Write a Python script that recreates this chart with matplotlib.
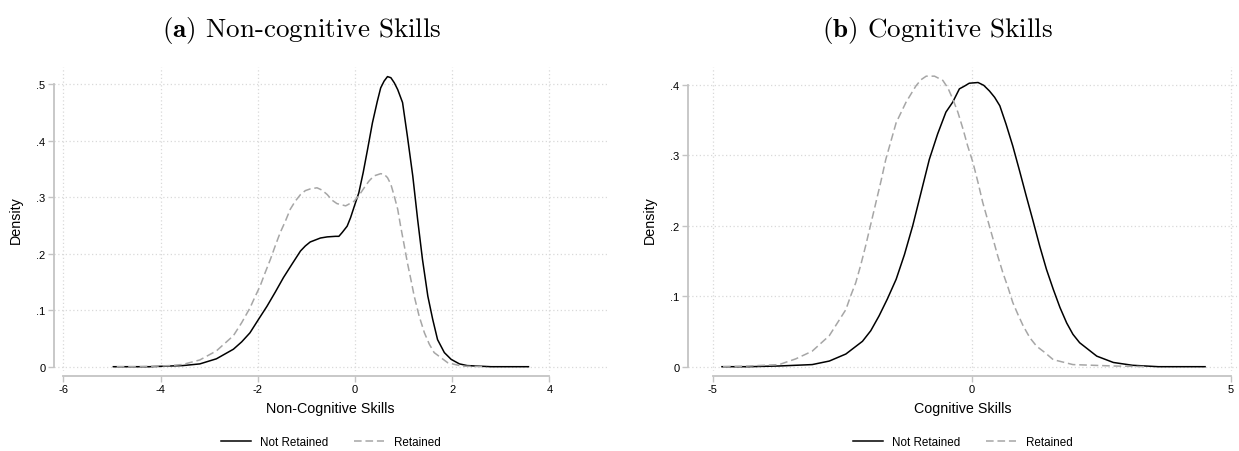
import matplotlib
matplotlib.use("Agg")
import matplotlib.pyplot as plt

# Panel (a): non-cognitive skills, density
nc_x_not = [-4.97, -4.6, -4.23, -3.9, -3.54, -3.19, -2.85, -2.5, -2.33, -2.16, -1.99, -1.81, -1.64,
            -1.47, -1.3, -1.12, -1.02, -0.92, -0.71, -0.57, -0.4, -0.33, -0.26, -0.16, -0.09, -0.01,
            0.08, 0.17, 0.26, 0.36, 0.46, 0.53, 0.6, 0.67, 0.74, 0.81, 0.88, 0.98, 1.08, 1.19, 1.29,
            1.39, 1.5, 1.6, 1.7, 1.84, 1.98, 2.15, 2.31, 2.8, 3.2, 3.57]
nc_y_not = [0.0, 0.0, 0.0, 0.001, 0.002, 0.005, 0.014, 0.031, 0.044, 0.060, 0.083, 0.107, 0.132,
            0.158, 0.181, 0.205, 0.214, 0.221, 0.228, 0.230, 0.231, 0.231, 0.238, 0.249, 0.264, 0.285,
            0.308, 0.344, 0.385, 0.432, 0.470, 0.494, 0.506, 0.514, 0.512, 0.503, 0.491, 0.468, 0.408,
            0.338, 0.261, 0.190, 0.125, 0.084, 0.048, 0.025, 0.013, 0.005, 0.002, 0.0, 0.0, 0.0]
nc_x_ret = [-4.9, -4.5, -4.1, -3.8, -3.54, -3.19, -2.85, -2.5, -2.33, -2.16, -2.06, -1.95, -1.85,
            -1.74, -1.64, -1.54, -1.43, -1.33, -1.23, -1.12, -1.02, -0.92, -0.78, -0.68, -0.57, -0.47,
            -0.37, -0.19, -0.02, 0.08, 0.19, 0.29, 0.39, 0.53, 0.6, 0.67, 0.74, 0.81, 0.88, 0.94, 1.01,
            1.08, 1.15, 1.22, 1.32, 1.43, 1.53, 1.63, 1.91, 2.2, 2.7]
nc_y_ret = [0.0, 0.0, 0.001, 0.002, 0.004, 0.012, 0.028, 0.055, 0.078, 0.104, 0.123, 0.143, 0.166,
            0.190, 0.214, 0.237, 0.258, 0.279, 0.293, 0.305, 0.312, 0.315, 0.317, 0.313, 0.305, 0.295,
            0.289, 0.285, 0.293, 0.303, 0.317, 0.329, 0.338, 0.342, 0.341, 0.335, 0.323, 0.302, 0.279,
            0.249, 0.217, 0.184, 0.155, 0.125, 0.090, 0.060, 0.040, 0.025, 0.007, 0.001, 0.0]

# Panel (b): cognitive skills
c_x_not = [-4.82, -4.3, -3.72, -3.08, -2.75, -2.43, -2.11, -1.95, -1.79, -1.63, -1.46, -1.3, -1.14,
           -0.98, -0.82, -0.66, -0.5, -0.37, -0.24, -0.14, -0.05, 0.12, 0.23, 0.34, 0.44, 0.54, 0.66,
           0.79, 0.92, 1.05, 1.18, 1.31, 1.44, 1.57, 1.7, 1.83, 1.95, 2.08, 2.41, 2.73, 3.1, 3.6,
           4.0, 4.5]
c_y_not = [0.0, 0.0, 0.001, 0.003, 0.008, 0.018, 0.036, 0.051, 0.072, 0.096, 0.124, 0.159, 0.200,
           0.247, 0.294, 0.330, 0.361, 0.375, 0.394, 0.398, 0.402, 0.403, 0.399, 0.391, 0.382, 0.370,
           0.344, 0.313, 0.278, 0.242, 0.207, 0.171, 0.138, 0.110, 0.084, 0.062, 0.046, 0.034, 0.015,
           0.006, 0.002, 0.0, 0.0, 0.0]
c_x_ret = [-4.8, -4.3, -3.72, -3.4, -3.08, -2.75, -2.43, -2.34, -2.24, -2.14, -2.05, -1.95, -1.85,
           -1.75, -1.66, -1.56, -1.46, -1.27, -1.08, -0.98, -0.88, -0.72, -0.56, -0.46, -0.37, -0.27,
           -0.17, -0.08, 0.02, 0.12, 0.21, 0.31, 0.41, 0.5, 0.6, 0.7, 0.79, 0.89, 0.99, 1.12, 1.25,
           1.41, 1.57, 1.95, 2.73, 3.4]
c_y_ret = [0.0, 0.001, 0.003, 0.011, 0.022, 0.044, 0.081, 0.100, 0.119, 0.145, 0.171, 0.202, 0.233,
           0.264, 0.294, 0.320, 0.346, 0.375, 0.398, 0.407, 0.412, 0.412, 0.406, 0.395, 0.380, 0.361,
           0.337, 0.313, 0.290, 0.261, 0.233, 0.207, 0.181, 0.157, 0.133, 0.112, 0.091, 0.074, 0.058,
           0.041, 0.029, 0.020, 0.010, 0.003, 0.001, 0.0]

nc_xticks = [-6, -4, -2, 0, 2, 4]
nc_yticks = [0, 0.1, 0.2, 0.3, 0.4, 0.5]
nc_ylabels = ["0", ".1", ".2", ".3", ".4", ".5"]
c_xticks = [-5, 0, 5]
c_yticks = [0, 0.1, 0.2, 0.3, 0.4]
c_ylabels = ["0", ".1", ".2", ".3", ".4"]

plt.rcParams["font.family"] = ["Liberation Sans", "DejaVu Sans"]
plt.rcParams["mathtext.fontset"] = "cm"

W, H = 1239, 452
fig = plt.figure(figsize=(W / 100, H / 100), dpi=100)

AX_COLOR = "#c4c4c4"
GRID_COLOR = "#d9d9d9"


def px_axes(x0, x1, y_top, y_bot):
    return fig.add_axes([x0 / W, 1 - y_bot / H, (x1 - x0) / W, (y_bot - y_top) / H])


def style_panel(ax, xticks, yticks, ylabels, xlabel, xlim, ylim):
    ax.set_xlim(*xlim)
    ax.set_ylim(*ylim)
    ax.set_xticks(xticks)
    ax.set_xticklabels([str(t) for t in xticks])
    ax.set_yticks(yticks)
    ax.set_yticklabels(ylabels)
    for t in xticks:
        ax.axvline(t, color=GRID_COLOR, lw=0.9, ls=(0, (1, 2)), zorder=0)
    for t in yticks:
        ax.axhline(t, color=GRID_COLOR, lw=0.9, ls=(0, (1, 2)), zorder=0)
    for s in ["top", "right"]:
        ax.spines[s].set_visible(False)
    ax.spines["left"].set_color(AX_COLOR)
    ax.spines["left"].set_linewidth(1.3)
    ax.spines["left"].set_bounds(yticks[0], yticks[-1])
    ax.spines["bottom"].set_color(AX_COLOR)
    ax.spines["bottom"].set_linewidth(1.3)
    ax.spines["bottom"].set_position(("outward", 3.4))
    ax.spines["bottom"].set_bounds(xticks[0], xticks[-1])
    ax.tick_params(axis="both", colors=AX_COLOR, labelcolor="black", labelsize=8,
                   length=4.3, width=1.0, pad=2)
    ax.set_xlabel(xlabel, fontsize=10.3)
    ax.xaxis.set_label_coords(0.5, -0.10)
    ax.set_ylabel("Density", fontsize=10.3)
    ax.yaxis.set_label_coords(-0.057, 0.5)
    ax.legend(loc="center", bbox_to_anchor=(0.5, -0.234), ncol=2, frameon=False,
              fontsize=8.4, handlelength=2.6, columnspacing=2.2, handletextpad=0.8)


line_kw = dict(lw=1.1, solid_joinstyle="round", dash_joinstyle="round")

# Panel (a)
ax1 = px_axes(54.3, 606.7, 68, 372)
ax1.plot(nc_x_not, nc_y_not, color="black", label="Not Retained", **line_kw)
ax1.plot(nc_x_ret, nc_y_ret, color="#a6a6a6", ls=(0, (5, 2.5)), label="Retained", **line_kw)
style_panel(ax1, nc_xticks, nc_yticks, nc_ylabels, "Non-Cognitive Skills",
            (-6.185, 5.18), (-0.0076, 0.531))

# Panel (b)
ax2 = px_axes(688.3, 1236.7, 68, 372)
ax2.plot(c_x_not, c_y_not, color="black", label="Not Retained", **line_kw)
ax2.plot(c_x_ret, c_y_ret, color="#a6a6a6", ls=(0, (5, 2.5)), label="Retained", **line_kw)
style_panel(ax2, c_xticks, c_yticks, c_ylabels, "Cognitive Skills",
            (-5.47, 5.11), (-0.0061, 0.425))

fig.text(302 / W, 1 - 30 / H, r"$\mathbf{(a)}$ Non-cognitive Skills", family="cmr10",
         fontsize=19.5, ha="center", va="center")
fig.text(938 / W, 1 - 30 / H, r"$\mathbf{(b)}$ Cognitive Skills", family="cmr10",
         fontsize=19.5, ha="center", va="center")

fig.savefig("out.png", dpi=100, facecolor="white")
